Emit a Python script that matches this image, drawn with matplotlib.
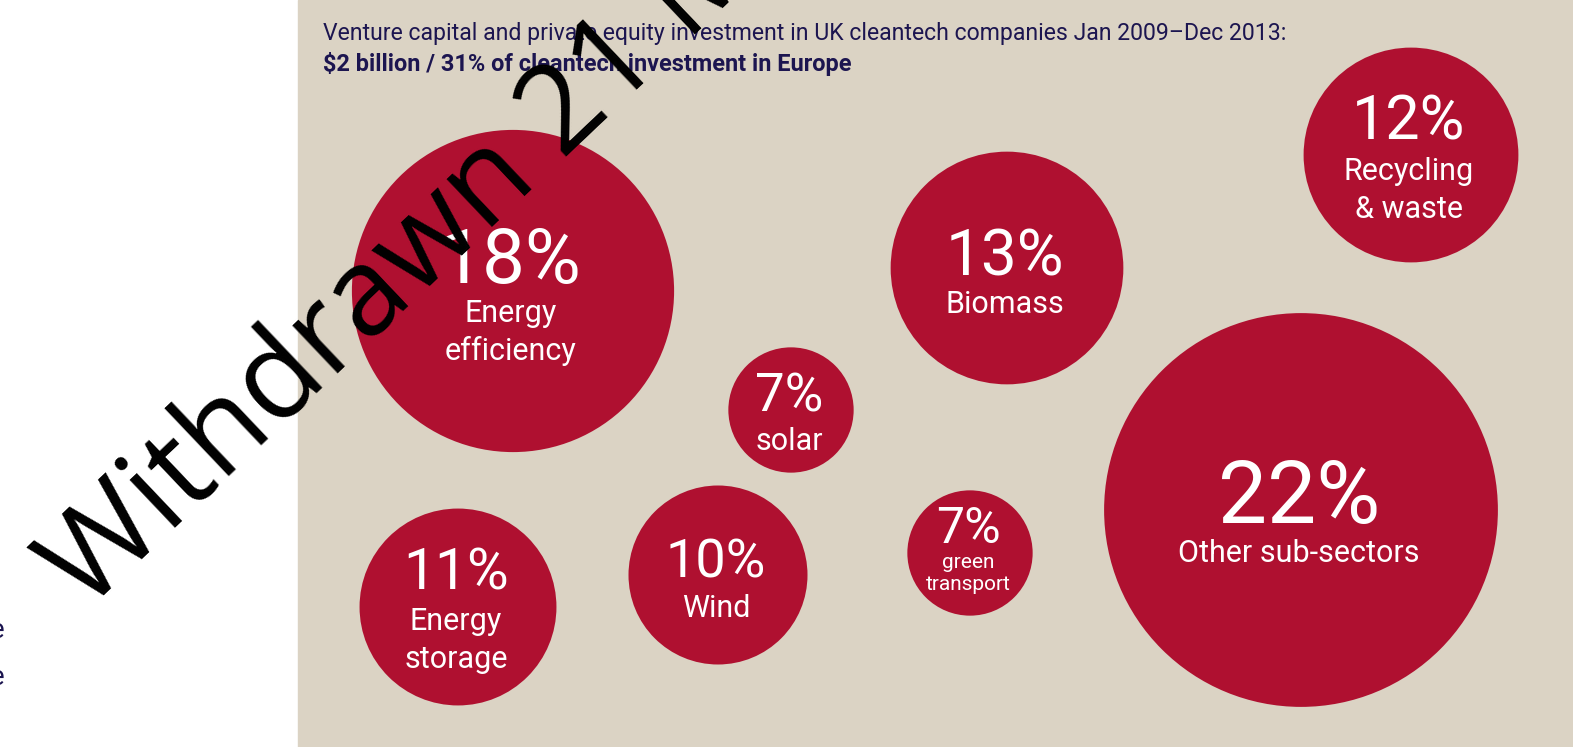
import matplotlib.pyplot as plt
from matplotlib.patches import Circle, Rectangle

# shares of UK cleantech VC/PE investment, Jan 2009 - Dec 2013
sectors = ['Energy\nefficiency', 'Biomass', 'Recycling\n& waste', 'solar',
           'Energy\nstorage', 'Wind', 'green\ntransport', 'Other sub-sectors']
shares = [18, 13, 12, 7, 11, 10, 7, 22]

title1 = 'Venture capital and private equity investment in UK cleantech companies Jan 2009\u2013Dec 2013:'
title2 = r'\$2 billion / 31% of cleantech investment in Europe'
watermark = 'Withdrawn 21 March 2016'

# layout (pixel coords, y down)
cx = [513, 1007, 1411, 791, 458, 718, 970, 1301]
cy = [291, 268, 155, 410, 607, 575, 553, 510]
pct_dy = [-8, 7, -15, 2, -17, 3, -10, 13]      # baseline of % relative to centre
lab_dy = [31, 45, 25, 40, 23, 42, 15, 52]      # first label baseline rel. to centre
pct_fs = [55, 46, 44, 38, 41, 39, 36, 63]
lab_fs = [22, 22, 22, 22, 22, 22, 15, 22]
lab_gap = [38, 38, 38, 38, 38, 38, 22, 38]
px_per_pct = 8.95

red = '#AF1030'
beige = '#DBD3C4'
navy = '#1C1550'

plt.rcParams['font.family'] = ['Roboto', 'DejaVu Sans']

fig = plt.figure(figsize=(15.73, 7.47), dpi=100)
ax = fig.add_axes([0, 0, 1, 1])
ax.set_xlim(0, 1573)
ax.set_ylim(747, 0)
ax.axis('off')

ax.add_patch(Rectangle((298, 0), 1275, 747, color=beige, zorder=0))

ax.text(323, 40, title1, fontsize=16.6, color=navy, va='baseline')
ax.text(323, 71, title2, fontsize=16.9, color=navy, va='baseline', fontweight='bold')

for i, (lab, v) in enumerate(zip(sectors, shares)):
    ax.add_patch(Circle((cx[i], cy[i]), v * px_per_pct, color=red, lw=0, zorder=1))
    ax.text(cx[i] - 2, cy[i] + pct_dy[i], f'{v}%', fontsize=pct_fs[i], color='white',
            ha='center', va='baseline', zorder=2)
    for j, line in enumerate(lab.split('\n')):
        ax.text(cx[i] - 2, cy[i] + lab_dy[i] + j * lab_gap[i], line, fontsize=lab_fs[i],
                color='white', ha='center', va='baseline', zorder=2)

# cut-off text at the left edge
ax.text(4, 638, 'e', fontsize=20, color=navy, ha='right', va='baseline')
ax.text(4, 685, 'e', fontsize=20, color=navy, ha='right', va='baseline')

ax.text(86, 612, watermark, fontsize=88, family='Open Sans', color='black',
        rotation=43.5, rotation_mode='anchor', ha='left', va='baseline', zorder=5)

fig.savefig('out.png', dpi=100)
